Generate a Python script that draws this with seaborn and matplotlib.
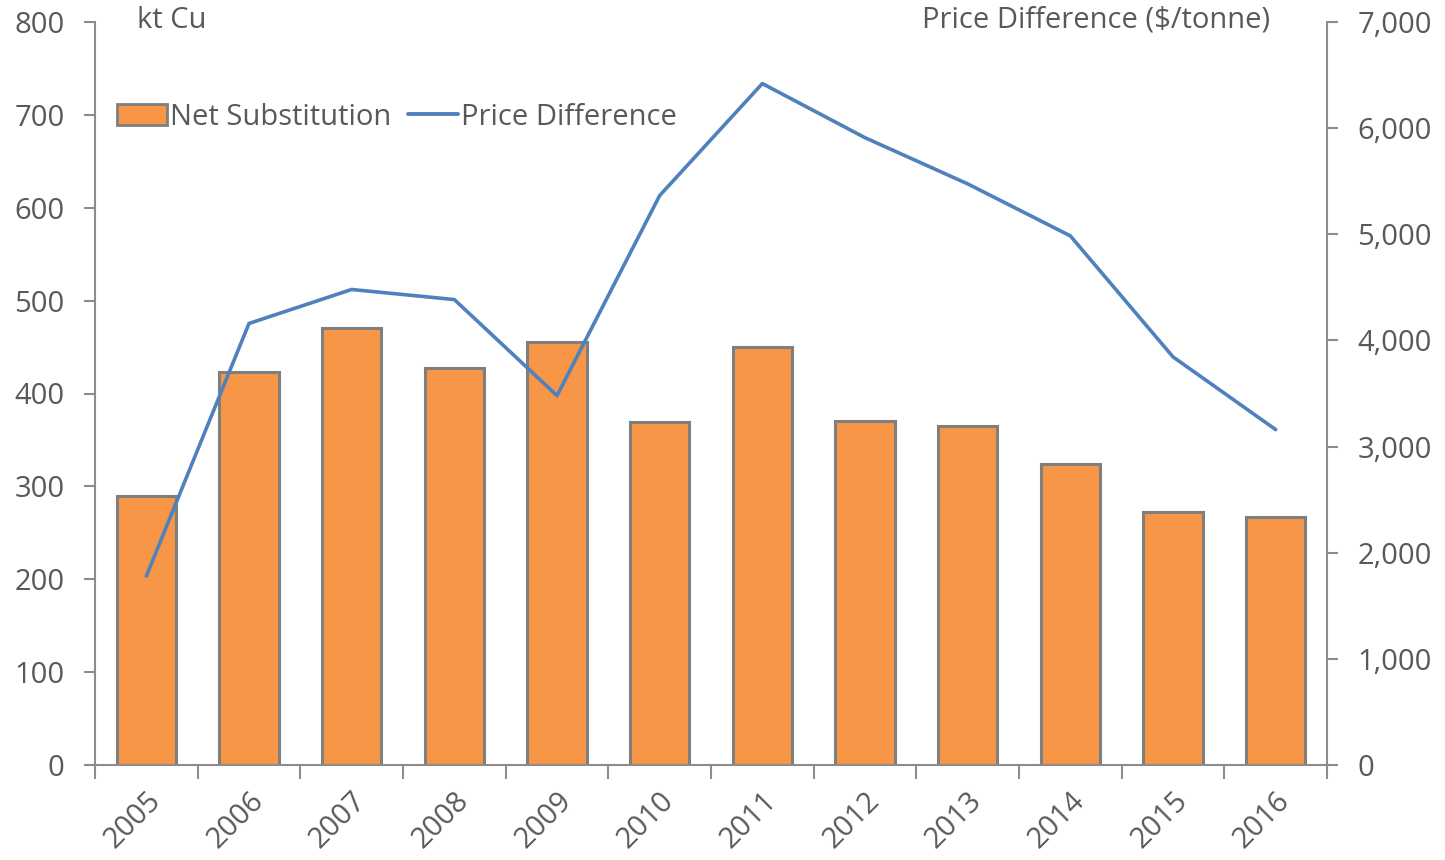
import numpy as np
import pandas as pd
import matplotlib
matplotlib.use("Agg")
import matplotlib.pyplot as plt
import seaborn as sns
from matplotlib.ticker import FuncFormatter, MultipleLocator, FixedLocator
from matplotlib.patches import Patch
from matplotlib.lines import Line2D

years = ["2005", "2006", "2007", "2008", "2009", "2010", "2011", "2012", "2013", "2014", "2015", "2016"]
net_substitution = [290, 423, 470, 427, 455, 369, 450, 370, 365, 324, 272, 267]
price_difference = [1780, 4160, 4480, 4385, 3480, 5365, 6420, 5910, 5475, 4985, 3845, 3160]

sns.set_theme(style="white")
plt.rcParams["font.family"] = ["Open Sans", "DejaVu Sans"]

TXT = "#595959"
AXC = "#8c8c8c"
BAR = "#F79646"
LINE = "#4F81BD"
FS = 21

fig = plt.figure(figsize=(14.45, 8.6), dpi=100)
ax = fig.add_axes([95/1445, 1-765/860, (1327-95)/1445, (765-22)/860])

df = pd.DataFrame({"year": years, "net": net_substitution, "price": price_difference})
sns.barplot(data=df, x="year", y="net", ax=ax, color=BAR, saturation=1,
            width=0.58, edgecolor="#7f7f7f", linewidth=2.2, zorder=2)
ax.set_xlim(-0.5, len(years) - 0.5)
ax.set_ylim(0, 800)
ax.yaxis.set_major_locator(MultipleLocator(100))

ax2 = ax.twinx()
pos = np.arange(len(years))
sns.lineplot(x=pos, y=df["price"], ax=ax2, color=LINE, linewidth=2.6, zorder=3)
ax2.set_ylim(0, 7000)
ax2.yaxis.set_major_locator(MultipleLocator(1000))
ax2.yaxis.set_major_formatter(FuncFormatter(lambda v, p: f"{int(v):,}"))
ax2.set_xlim(-0.5, len(years) - 0.5)

for a in (ax, ax2):
    for s in a.spines.values():
        s.set_visible(False)
    a.set_xlabel("")
    a.set_ylabel("")

ax.spines["left"].set_visible(True)
ax.spines["left"].set_color(AXC)
ax.spines["left"].set_linewidth(1.5)
ax.spines["bottom"].set_visible(True)
ax.spines["bottom"].set_color(AXC)
ax.spines["bottom"].set_linewidth(1.5)
ax2.spines["right"].set_visible(True)
ax2.spines["right"].set_color(AXC)
ax2.spines["right"].set_linewidth(1.5)

ax.tick_params(axis="y", which="major", left=True, length=8, width=1.5, color=AXC,
               labelsize=FS, labelcolor=TXT, pad=14)
ax2.tick_params(axis="y", which="major", right=True, length=8, width=1.5, color=AXC,
                labelsize=FS, labelcolor=TXT, pad=14)
ax.set_xticks(pos)
ax.set_xticklabels(years, rotation=45, ha="right", va="top", rotation_mode="anchor")
ax.tick_params(axis="x", which="major", bottom=True, length=0, labelsize=FS,
               labelcolor=TXT, pad=15)
ax.xaxis.set_minor_locator(FixedLocator(np.arange(-0.5, len(years), 1.0)))
ax.tick_params(axis="x", which="minor", bottom=True, length=10, width=1.5, color=AXC)
ax2.tick_params(axis="x", which="both", bottom=False, top=False, labelbottom=False)

fig.text(137/1445, 1-20/860, "kt Cu", fontsize=FS, color=TXT, va="center", ha="left")
fig.text(1270/1445, 1-20/860, "Price Difference ($/tonne)", fontsize=FS, color=TXT,
         va="center", ha="right")

handles = [Patch(facecolor=BAR, edgecolor="#7f7f7f", linewidth=2),
           Line2D([0], [0], color=LINE, linewidth=2.8)]
leg = ax2.legend(handles, ["Net Substitution", "Price Difference"], loc="center left",
                 bbox_to_anchor=(0.018, 1 - (117 - 22) / 743), ncol=2, frameon=False,
                 fontsize=FS, handlelength=1.7, handleheight=0.7, handletextpad=0.1,
                 columnspacing=0.6, borderaxespad=0, borderpad=0)
for t in leg.get_texts():
    t.set_color(TXT)

fig.savefig("out.png", dpi=100, facecolor="white")
